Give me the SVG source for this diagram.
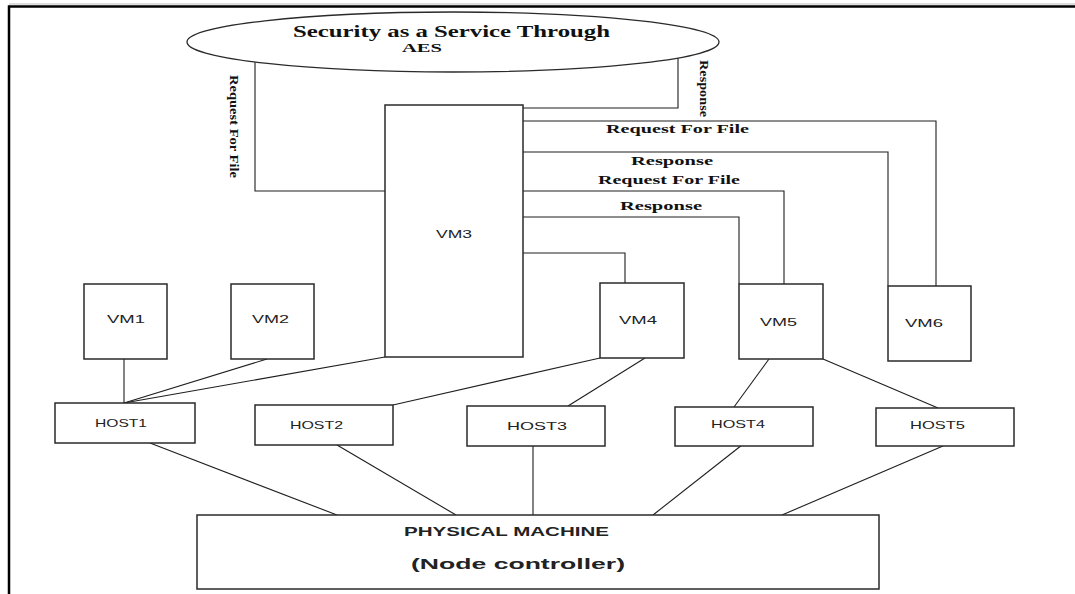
<svg xmlns="http://www.w3.org/2000/svg" width="1075" height="594" viewBox="0 0 1075 594">
<style>
.box{fill:#fff;stroke:#2a2a2a;stroke-width:1.5}
.ln{fill:none;stroke:#1e1e1e;stroke-width:1.1}
.sv{font-family:"Liberation Serif","Times New Roman",serif;font-weight:bold;fill:#111}
.ss{font-family:"Liberation Sans",Arial,sans-serif;fill:#222}
</style>
<rect width="1075" height="594" fill="#fff"/>
<g id="frame">
<line x1="9" y1="4" x2="1075" y2="4" stroke="#bbb" stroke-width="1"/>
<path d="M9,594 V6.5 H1075" fill="none" stroke="#000" stroke-width="2.5"/>
</g>
<g id="connectors">
<path class="ln" d="M255,62 V191 H385"/>
<path class="ln" d="M523,108 H678 V58"/>
<path class="ln" d="M523,121 H936 V286"/>
<path class="ln" d="M523,152 H888 V286"/>
<path class="ln" d="M523,191 H784 V284"/>
<path class="ln" d="M523,217 H739 V284"/>
<path class="ln" d="M523,253 H625 V283"/>
<path class="ln" d="M124,359 V403"/>
<path class="ln" d="M267,359 L124,403"/>
<path class="ln" d="M385,357 L124,403"/>
<path class="ln" d="M600,358 L393,405"/>
<path class="ln" d="M645,358 L568,406"/>
<path class="ln" d="M769,359 L734,407"/>
<path class="ln" d="M823,359 L938,408"/>
<path class="ln" d="M150,443 L337,515"/>
<path class="ln" d="M337,445 L456,515"/>
<path class="ln" d="M533,446 V515"/>
<path class="ln" d="M742,445 L653,515"/>
<path class="ln" d="M943,446 L782,515"/>
<text class="sv" font-size="12" text-anchor="middle" textLength="103" lengthAdjust="spacingAndGlyphs" transform="translate(230,126.5) rotate(90)">Request For File</text>
<text class="sv" font-size="12" text-anchor="middle" textLength="57" lengthAdjust="spacingAndGlyphs" transform="translate(700,88.5) rotate(90)">Response</text>
<text class="sv" font-size="13" x="606" y="133" textLength="143" lengthAdjust="spacingAndGlyphs">Request For File</text>
<text class="sv" font-size="13" x="631" y="165" textLength="82" lengthAdjust="spacingAndGlyphs">Response</text>
<text class="sv" font-size="13" x="598" y="184" textLength="142" lengthAdjust="spacingAndGlyphs">Request For File</text>
<text class="sv" font-size="13" x="620" y="210" textLength="82" lengthAdjust="spacingAndGlyphs">Response</text>
</g>
<g id="saas">
<ellipse cx="453" cy="42" rx="266" ry="30" fill="#fff" stroke="#2a2a2a" stroke-width="1.3"/>
<text class="sv" font-size="17" x="293" y="37" textLength="317" lengthAdjust="spacingAndGlyphs">Security as a Service Through</text>
<text class="sv" font-size="12" x="402" y="52" textLength="40" lengthAdjust="spacingAndGlyphs">AES</text>
</g>
<g id="vm1"><rect class="box" x="84" y="284" width="83" height="75"/><text class="ss" font-size="11" x="107" y="323" textLength="38" lengthAdjust="spacingAndGlyphs">VM1</text></g>
<g id="vm2"><rect class="box" x="231" y="284" width="83" height="75"/><text class="ss" font-size="11" x="252" y="323" textLength="37" lengthAdjust="spacingAndGlyphs">VM2</text></g>
<g id="vm3"><rect class="box" x="385" y="105" width="138" height="252"/><text class="ss" font-size="11" x="436" y="238" textLength="36" lengthAdjust="spacingAndGlyphs">VM3</text></g>
<g id="vm4"><rect class="box" x="600" y="283" width="84" height="75"/><text class="ss" font-size="11" x="619" y="324" textLength="38" lengthAdjust="spacingAndGlyphs">VM4</text></g>
<g id="vm5"><rect class="box" x="739" y="284" width="84" height="75"/><text class="ss" font-size="11" x="760" y="326" textLength="37" lengthAdjust="spacingAndGlyphs">VM5</text></g>
<g id="vm6"><rect class="box" x="888" y="286" width="83" height="75"/><text class="ss" font-size="11" x="905" y="327" textLength="38" lengthAdjust="spacingAndGlyphs">VM6</text></g>
<g id="host1"><rect class="box" x="55" y="403" width="140" height="40"/><text class="ss" font-size="10.5" x="95" y="427" textLength="52" lengthAdjust="spacingAndGlyphs">HOST1</text></g>
<g id="host2"><rect class="box" x="255" y="405" width="138" height="40"/><text class="ss" font-size="10.5" x="290" y="429" textLength="53" lengthAdjust="spacingAndGlyphs">HOST2</text></g>
<g id="host3"><rect class="box" x="467" y="406" width="138" height="40"/><text class="ss" font-size="10.5" x="507" y="430" textLength="60" lengthAdjust="spacingAndGlyphs">HOST3</text></g>
<g id="host4"><rect class="box" x="675" y="407" width="138" height="39"/><text class="ss" font-size="10.5" x="711" y="428" textLength="54" lengthAdjust="spacingAndGlyphs">HOST4</text></g>
<g id="host5"><rect class="box" x="876" y="408" width="138" height="38"/><text class="ss" font-size="10.5" x="910" y="429" textLength="55" lengthAdjust="spacingAndGlyphs">HOST5</text></g>
<g id="physical"><rect class="box" x="197" y="515" width="682" height="74"/>
<text class="ss" font-size="13" font-weight="bold" x="404" y="536" textLength="205" lengthAdjust="spacingAndGlyphs" fill="#111">PHYSICAL MACHINE</text>
<text class="ss" font-size="15" font-weight="bold" x="411" y="569" textLength="214" lengthAdjust="spacingAndGlyphs" fill="#111">(Node controller)</text>
</g>
</svg>
